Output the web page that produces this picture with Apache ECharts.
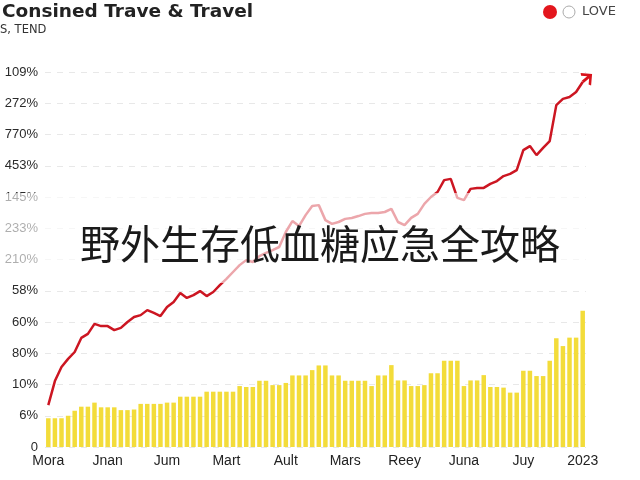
<!DOCTYPE html>
<html>
<head>
<meta charset="utf-8">
<script src="https://cdn.jsdelivr.net/npm/echarts@6/dist/echarts.min.js"></script>
<style>
  html, body { margin: 0; padding: 0; background: #fff; }
  #chart { width: 640px; height: 480px; }
</style>
</head>
<body>
<div id="chart"></div>
<script>
  // x axis: 82 periods, only every 9th one is labelled
  var tickNames = ['Mora', 'Jnan', 'Jum', 'Mart', 'Ault', 'Mars', 'Reey', 'Juna', 'Juy', '2023']
  // y axis labels, bottom to top (one per unit step)
  var yLabels = ['0', '6%', '10%', '80%', '60%', '58%', '210%', '233%', '145%', '453%', '770%', '272%', '109%']

  var barValues = [
    0.92, 0.92, 0.92, 1.0, 1.16, 1.29, 1.29, 1.42, 1.27, 1.27,
    1.27, 1.18, 1.18, 1.2, 1.38, 1.38, 1.38, 1.38, 1.42, 1.42,
    1.61, 1.61, 1.61, 1.61, 1.77, 1.77, 1.77, 1.77, 1.77, 1.95,
    1.92, 1.92, 2.12, 2.12, 1.98, 1.98, 2.05, 2.29, 2.29, 2.29,
    2.46, 2.61, 2.61, 2.29, 2.29, 2.12, 2.12, 2.12, 2.12, 1.95,
    2.29, 2.29, 2.62, 2.13, 2.13, 1.95, 1.95, 1.98, 2.36, 2.36,
    2.76, 2.76, 2.76, 1.95, 2.13, 2.13, 2.3, 1.92, 1.92, 1.9,
    1.74, 1.74, 2.44, 2.44, 2.27, 2.27, 2.76, 3.48, 3.23, 3.5,
    3.5, 4.36
  ]

  var lineValues = [
    1.34, 2.11, 2.56, 2.82, 3.04, 3.49, 3.62, 3.94, 3.87, 3.87,
    3.74, 3.81, 4.0, 4.16, 4.22, 4.38, 4.29, 4.19, 4.48, 4.64,
    4.93, 4.77, 4.86, 4.99, 4.83, 4.96, 5.18, 5.38, 5.6, 5.82,
    5.98, 5.92, 6.11, 6.21, 6.3, 6.4, 6.88, 7.23, 7.07, 7.42,
    7.71, 7.74, 7.26, 7.14, 7.2, 7.3, 7.33, 7.39, 7.46, 7.49,
    7.49, 7.52, 7.62, 7.2, 7.1, 7.33, 7.46, 7.78, 8.0, 8.16,
    8.54, 8.58, 7.97, 7.9, 8.26, 8.29, 8.29, 8.42, 8.51, 8.67,
    8.74, 8.86, 9.5, 9.63, 9.34, 9.57, 9.79, 10.94, 11.14, 11.2,
    11.36, 11.68
  ]

  var categories = []
  for (var i = 0; i < barValues.length; i++) {
    categories.push(i % 9 === 0 ? tickNames[i / 9] : '')
  }

  // last point carries the arrow head (open chevron + short shaft)
  var lineData = lineValues.map(function (v, idx) {
    if (idx === lineValues.length - 1) {
      return {
        value: v,
        symbol: 'path://M0,8 L8,0 L16,8 M8,0 L8,12',
        symbolSize: [14, 10.5],
        symbolRotate: -50,
        symbolOffset: [4, -3.4],
        itemStyle: { color: 'transparent', borderColor: '#d8131c', borderWidth: 2.5 }
      }
    }
    return v
  })

  var mychart = echarts.init(document.getElementById('chart'))

  var option = {
    animation: false,
    grid: { left: 45, right: 54, top: 72, bottom: 33 },
    xAxis: {
      type: 'category',
      data: categories,
      boundaryGap: true,
      axisLine: { show: false },
      axisTick: { show: false },
      axisLabel: {
        interval: 0,
        color: '#222',
        fontSize: 14,
        fontFamily: '"Liberation Sans", Arial, sans-serif',
        margin: 7
      }
    },
    yAxis: {
      type: 'value',
      min: 0,
      max: 12,
      interval: 1,
      axisLine: { show: false },
      axisTick: { show: false },
      axisLabel: {
        color: '#2a2a2a',
        fontSize: 13,
        fontFamily: '"Liberation Sans", Arial, sans-serif',
        margin: 7,
        formatter: function (v) { return yLabels[Math.round(v)] }
      },
      splitLine: {
        show: true,
        lineStyle: { color: '#e8e8e8', type: [6, 6], width: 1 }
      }
    },
    series: [
      {
        name: 'bars',
        type: 'bar',
        barWidth: '68%',
        itemStyle: { color: '#f3dc3a' },
        data: barValues
      },
      {
        name: 'LOVE',
        type: 'line',
        showSymbol: true,
        symbol: 'none',
        lineStyle: { color: '#cc1622', width: 2.5 },
        itemStyle: { color: '#cc1622' },
        data: lineData,
        z: 5
      }
    ],
    graphic: [
      {
        type: 'text', left: 2, top: 3,
        style: { text: 'Consined Trave & Travel', fill: '#222', font: 'bold 18.5px "DejaVu Sans", sans-serif' }
      },
      {
        type: 'text', left: 0, top: 24,
        style: { text: 'S, TEND', fill: '#333', font: '11.5px "DejaVu Sans", sans-serif' }
      },
      {
        type: 'circle', shape: { cx: 550, cy: 12, r: 7 },
        style: { fill: '#e3161d' }
      },
      {
        type: 'circle', shape: { cx: 569, cy: 12, r: 6 },
        style: { fill: '#fff', stroke: '#aaa', lineWidth: 1 }
      },
      {
        type: 'text', left: 582, top: 5,
        style: { text: 'LOVE', fill: '#444', font: '13px "DejaVu Sans", sans-serif' }
      },
      {
        type: 'rect', z: 50,
        shape: { x: 0, y: 193, width: 640, height: 90 },
        style: { fill: 'rgba(255,255,255,0.62)' }
      },
      {
        type: 'text', z: 60, left: 'center', top: 224,
        style: { text: '野外生存低血糖应急全攻略', fill: '#1a1a1a', font: '40px "Noto Sans CJK SC", sans-serif' }
      }
    ]
  }

  mychart.setOption(option)
</script>
</body>
</html>
